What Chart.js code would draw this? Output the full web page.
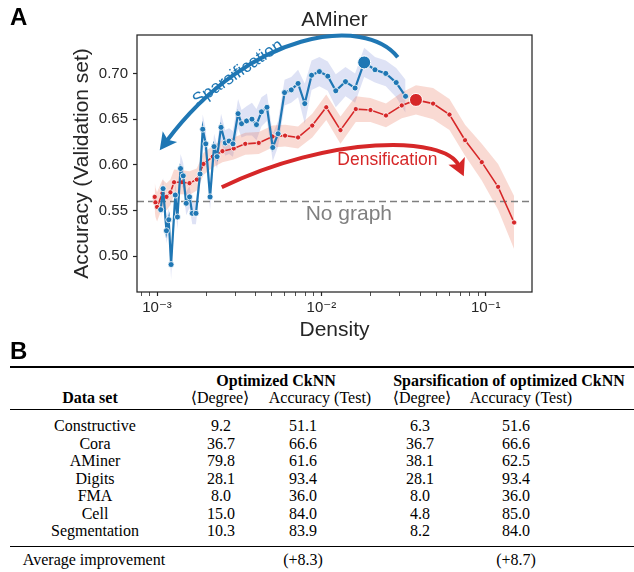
<!DOCTYPE html>
<html>
<head>
<meta charset="utf-8">
<script src="https://cdn.jsdelivr.net/npm/chart.js@4.4.1/dist/chart.umd.min.js"></script>
<style>
html,body{margin:0;padding:0;background:#fff;width:634px;height:572px;overflow:hidden;}
#wrap{position:absolute;left:0;top:0;width:634px;height:345px;}
.panel{position:absolute;font-family:"Liberation Sans",Arial,sans-serif;font-weight:bold;font-size:24px;line-height:24px;color:#000;}
.t{position:absolute;font-family:"Liberation Serif","Times New Roman","DejaVu Serif",serif;font-size:16px;line-height:18px;white-space:nowrap;transform:translateX(-50%);color:#000;}
.b{font-weight:bold;}
.rule{position:absolute;background:#000;left:10px;width:624px;}
</style>
</head>
<body>
<div id="wrap"><canvas id="c" width="634" height="345"></canvas></div>
<div class="panel" style="left:10px;top:5px">A</div>
<div class="panel" style="left:10px;top:339px">B</div>
<div id="tbl"></div>
<script>
// ---------------- data (panel A) ----------------
const chartTitle = 'AMiner';
const xAxisTitle = 'Density';
const yAxisTitle = 'Accuracy (Validation set)';
const xMajorTicks = [1e-3, 1e-2, 1e-1];
const xTickLabels = ['10\u207B\u00B3', '10\u207B\u00B2', '10\u207B\u00B9'];
const yTicks = [0.50, 0.55, 0.60, 0.65, 0.70];
const noGraphAcc = 0.56;

const redDensity = [0.000968, 0.000978, 0.001000, 0.001079, 0.001141, 0.001206, 0.001269, 0.001419, 0.001575, 0.001745,
  0.001917, 0.002183, 0.002500, 0.002930, 0.003442, 0.004159, 0.005041, 0.006012, 0.007215, 0.008803,
  0.01071, 0.01307, 0.01620, 0.01990, 0.02473, 0.03086, 0.03765, 0.04785, 0.06021, 0.07492,
  0.09469, 0.1190, 0.1489];
const redAcc = [0.565, 0.559, 0.554, 0.569, 0.565, 0.570, 0.581, 0.581, 0.580, 0.584,
  0.601, 0.609, 0.615, 0.618, 0.623, 0.624, 0.631, 0.632, 0.630, 0.643,
  0.663, 0.638, 0.661, 0.660, 0.654, 0.665, 0.671, 0.667, 0.655, 0.627,
  0.603, 0.576, 0.537];
const redErr = [0.016, 0.016, 0.016, 0.015, 0.015, 0.014, 0.014, 0.013, 0.013, 0.012,
  0.012, 0.012, 0.012, 0.012, 0.012, 0.012, 0.012, 0.012, 0.012, 0.013,
  0.014, 0.015, 0.014, 0.013, 0.013, 0.014, 0.016, 0.017, 0.017, 0.017,
  0.020, 0.025, 0.029];

const blueDensity = [0.001053, 0.001088, 0.001141, 0.001178, 0.001217, 0.001291, 0.001331, 0.001390, 0.001443, 0.001505,
  0.001577, 0.001638, 0.001725, 0.001827, 0.001897, 0.001979, 0.002102, 0.002223, 0.002319, 0.002452,
  0.002601, 0.002743, 0.002897, 0.003112, 0.003268, 0.003505, 0.003781, 0.004027, 0.004319, 0.004666,
  0.005060, 0.005451, 0.005970, 0.006558, 0.007215, 0.007925, 0.008718, 0.009723, 0.010939, 0.012237,
  0.014020, 0.016041, 0.018222, 0.021200, 0.024660, 0.028530, 0.032540];
const blueAcc = [0.551, 0.574, 0.528, 0.540, 0.491, 0.567, 0.543, 0.596, 0.588, 0.558,
  0.565, 0.547, 0.547, 0.590, 0.639, 0.623, 0.565, 0.620, 0.609, 0.641,
  0.624, 0.626, 0.623, 0.656, 0.645, 0.648, 0.650, 0.644, 0.658, 0.663,
  0.619, 0.634, 0.679, 0.682, 0.689, 0.667, 0.698, 0.702, 0.697, 0.681,
  0.691, 0.684, 0.712, 0.704, 0.700, 0.690, 0.675];
const blueErr = [0.012, 0.012, 0.014, 0.013, 0.016, 0.014, 0.013, 0.016, 0.014, 0.013,
  0.012, 0.012, 0.012, 0.013, 0.016, 0.015, 0.014, 0.014, 0.013, 0.015,
  0.014, 0.014, 0.014, 0.016, 0.015, 0.016, 0.018, 0.017, 0.016, 0.015,
  0.015, 0.014, 0.014, 0.014, 0.015, 0.022, 0.016, 0.016, 0.016, 0.018,
  0.016, 0.016, 0.016, 0.014, 0.014, 0.016, 0.018];

// ---------------- data (panel B) ----------------
const tableNames = ['Constructive', 'Cora', 'AMiner', 'Digits', 'FMA', 'Cell', 'Segmentation'];
const optDegree = [9.2, 36.7, 79.8, 28.1, 8.0, 15.0, 10.3];
const optAcc = [51.1, 66.6, 61.6, 93.4, 36.0, 84.0, 83.9];
const spDegree = [6.3, 36.7, 38.1, 28.1, 8.0, 4.8, 8.2];
const spAcc = [51.6, 66.6, 62.5, 93.4, 36.0, 85.0, 84.0];
const avgImprovement = [8.3, 8.7];

// ---------------- styling / layout ----------------
const BLUE = '#1f77b4', RED = '#d62728', INK = '#262626';
const xMin = 7.55e-4, xMax = 0.1914, yMin = 0.461, yMax = 0.742;
const SANS = "'Liberation Sans', Arial, 'DejaVu Sans', sans-serif";
Chart.defaults.font.family = SANS;
Chart.defaults.color = INK;

const pts = (xs, ys) => xs.map((d, i) => ({x: d, y: ys[i]}));
const shift = (ys, es, s) => ys.map((v, i) => v + s * es[i]);
const peak = (xs, ys) => { const i = ys.indexOf(Math.max(...ys)); return [{x: xs[i], y: ys[i]}]; };

// annotation anchors in data coordinates (density, accuracy)
const annot = {
  spars: {pts: [[0.02917, 0.7177], [0.01837, 0.7637], [0.003666, 0.7473], [0.001038, 0.6160]], text: 'Sparsification', at: [0.003108, 0.7005], rot: -34, color: BLUE},
  dens: {pts: [[0.002476, 0.5755], [0.011248, 0.6324], [0.05637, 0.6324], [0.07357, 0.5875]], text: 'Densification', at: [0.02525, 0.6050], rot: 0, color: RED},
  nograph: {text: 'No graph', at: [0.01470, 0.5460]}
};

function drawArrow(ctx, p, color, width, headLen, headW) {
  const [p0, p1, p2, p3] = p;
  const dx = p3.x - p2.x, dy = p3.y - p2.y, L = Math.hypot(dx, dy), ux = dx / L, uy = dy / L;
  const ex = p3.x - ux * headLen * 0.7, ey = p3.y - uy * headLen * 0.7;
  ctx.beginPath();
  ctx.moveTo(p0.x, p0.y);
  ctx.bezierCurveTo(p1.x, p1.y, p2.x, p2.y, ex, ey);
  ctx.strokeStyle = color; ctx.lineWidth = width; ctx.lineCap = 'butt';
  ctx.stroke();
  const bx = p3.x - ux * headLen, by = p3.y - uy * headLen;
  ctx.beginPath();
  ctx.moveTo(p3.x, p3.y);
  ctx.lineTo(bx - uy * headW, by + ux * headW);
  ctx.lineTo(p3.x - ux * headLen * 0.78, p3.y - uy * headLen * 0.78);
  ctx.lineTo(bx + uy * headW, by - ux * headW);
  ctx.closePath();
  ctx.fillStyle = color; ctx.fill();
}

const annotationPlugin = {
  id: 'annot',
  afterDraw(chart) {
    const {ctx, chartArea: a, scales: {x, y}} = chart;
    const P = ([d, v]) => ({x: x.getPixelForValue(d), y: y.getPixelForValue(v)});
    ctx.save();
    ctx.strokeStyle = INK; ctx.lineWidth = 1.25;
    ctx.strokeRect(a.left, a.top, a.right - a.left, a.bottom - a.top);
    ctx.fillStyle = INK; ctx.font = '21px ' + SANS;
    ctx.textAlign = 'center'; ctx.textBaseline = 'middle';
    ctx.fillText(chartTitle, (a.left + a.right) / 2, a.top - 15);
    for (const k of ['spars', 'dens']) {
      const an = annot[k];
      drawArrow(ctx, an.pts.map(P), an.color, 4, 17, 9);
      const c = P(an.at);
      ctx.save();
      ctx.translate(c.x, c.y); ctx.rotate(an.rot * Math.PI / 180);
      ctx.fillStyle = an.color; ctx.font = '17.5px ' + SANS;
      ctx.textAlign = 'center'; ctx.textBaseline = 'middle';
      ctx.fillText(an.text, 0, 0);
      ctx.restore();
    }
    const n = P(annot.nograph.at);
    ctx.fillStyle = '#808080'; ctx.font = '21px ' + SANS;
    ctx.fillText(annot.nograph.text, n.x, n.y);
    ctx.restore();
  }
};

const minorTicks = [];
for (let e = -4; e <= -1; e++) for (let m = 1; m <= 9; m++) { const v = m * Math.pow(10, e); if (v >= xMin && v <= xMax) minorTicks.push(v); }
const isMajor = v => xMajorTicks.some(t => Math.abs(v / t - 1) < 1e-9);

new Chart(document.getElementById('c'), {
  type: 'line',
  data: {
    datasets: [
      {data: pts(blueDensity, shift(blueAcc, blueErr, -1)), borderWidth: 0, borderColor: 'rgba(0,0,0,0)', pointRadius: 0, fill: false, order: 10},
      {data: pts(blueDensity, shift(blueAcc, blueErr, 1)), borderWidth: 0, borderColor: 'rgba(0,0,0,0)', pointRadius: 0, fill: '-1', backgroundColor: 'rgba(90,110,205,0.2)', order: 10},
      {data: pts(redDensity, shift(redAcc, redErr, -1)), borderWidth: 0, borderColor: 'rgba(0,0,0,0)', pointRadius: 0, fill: false, order: 9},
      {data: pts(redDensity, shift(redAcc, redErr, 1)), borderWidth: 0, borderColor: 'rgba(0,0,0,0)', pointRadius: 0, fill: '-1', backgroundColor: 'rgba(232,100,70,0.24)', order: 9},
      {label: 'No graph', data: [{x: xMin, y: noGraphAcc}, {x: xMax, y: noGraphAcc}], borderColor: '#7f7f7f', borderDash: [7, 4], borderWidth: 1.6, pointRadius: 0, fill: false, order: 8},
      {label: 'Densification', data: pts(redDensity, redAcc), borderColor: RED, borderWidth: 1.6, pointRadius: 2.6, pointBackgroundColor: RED, pointBorderColor: '#fff', pointBorderWidth: 0.8, fill: false, order: 6},
      {label: 'Sparsification', data: pts(blueDensity, blueAcc), borderColor: BLUE, borderWidth: 2.2, pointRadius: 3, pointBackgroundColor: BLUE, pointBorderColor: '#fff', pointBorderWidth: 0.8, fill: false, order: 5},
      {data: peak(redDensity, redAcc), showLine: false, pointRadius: 6.5, pointBackgroundColor: RED, pointBorderColor: '#fff', pointBorderWidth: 1, order: 1},
      {data: peak(blueDensity, blueAcc), showLine: false, pointRadius: 6.5, pointBackgroundColor: BLUE, pointBorderColor: '#fff', pointBorderWidth: 1, order: 1}
    ]
  },
  options: {
    responsive: false, animation: false, events: [],
    layout: {padding: {top: 35, right: 102, left: 0, bottom: 0}},
    plugins: {legend: {display: false}, tooltip: {enabled: false}, title: {display: false}},
    elements: {line: {tension: 0}},
    scales: {
      x: {
        type: 'logarithmic', min: xMin, max: xMax,
        afterFit: s => { s.height = 53; },
        afterBuildTicks: s => { s.ticks = minorTicks.map(v => ({value: v, major: isMajor(v)})); },
        border: {display: false},
        grid: {drawOnChartArea: false, drawTicks: true, tickLength: 4, tickColor: INK,
          tickWidth: c => (c.tick && isMajor(c.tick.value)) ? 1.2 : 0.8},
        ticks: {autoSkip: false, maxRotation: 0, padding: 3, color: INK, font: {size: 15},
          callback: v => { const i = xMajorTicks.findIndex(t => Math.abs(v / t - 1) < 1e-9); return i >= 0 ? xTickLabels[i] : ''; }},
        title: {display: true, text: xAxisTitle, color: INK, font: {size: 21}, padding: {top: 0, bottom: 2}}
      },
      y: {
        type: 'linear', min: yMin, max: yMax,
        afterFit: s => { s.width = 137; },
        afterBuildTicks: s => { s.ticks = yTicks.map(v => ({value: v})); },
        border: {display: false},
        grid: {drawOnChartArea: false, drawTicks: true, tickLength: 4, tickColor: INK, tickWidth: 1.2},
        ticks: {padding: 5, color: INK, font: {size: 15}, callback: v => v.toFixed(2)},
        title: {display: true, text: yAxisTitle, color: INK, font: {size: 21}, padding: {top: 70, bottom: 0}}
      }
    }
  },
  plugins: [annotationPlugin]
});

// ---------------- panel B table ----------------
const tbl = document.getElementById('tbl');
function txt(s, x, yc, bold) {
  const d = document.createElement('div');
  d.className = 't' + (bold ? ' b' : '');
  d.style.left = x + 'px'; d.style.top = (yc - 9) + 'px';
  d.textContent = s; tbl.appendChild(d);
}
function rule(y, h) {
  const d = document.createElement('div');
  d.className = 'rule'; d.style.top = y + 'px'; d.style.height = h + 'px'; tbl.appendChild(d);
}
const colX = [95, 221, 303, 420, 516];
rule(366, 2);
txt('Optimized CkNN', 276, 381, true);
txt('Sparsification of optimized CkNN', 509, 381, true);
txt('Data set', 90, 398, true);
txt('\u27E8Degree\u27E9', 220, 398);
txt('Accuracy (Test)', 320, 398);
txt('\u27E8Degree\u27E9', 422, 398);
txt('Accuracy (Test)', 521, 398);
rule(409, 1);
tableNames.forEach((n, i) => {
  const yc = 426 + i * 17.5;
  txt(n, colX[0], yc);
  txt(optDegree[i].toFixed(1), colX[1], yc);
  txt(optAcc[i].toFixed(1), colX[2], yc);
  txt(spDegree[i].toFixed(1), colX[3], yc);
  txt(spAcc[i].toFixed(1), colX[4], yc);
});
rule(546, 1);
txt('Average improvement', 94, 560);
txt('(+' + avgImprovement[0].toFixed(1) + ')', colX[2], 560);
txt('(+' + avgImprovement[1].toFixed(1) + ')', colX[4], 560);
</script>
</body>
</html>
